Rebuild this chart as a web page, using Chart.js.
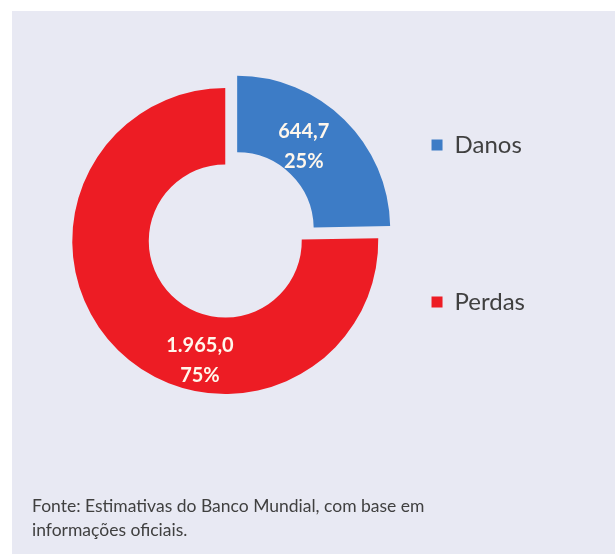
<!DOCTYPE html>
<html>
<head>
<meta charset="utf-8">
<script src="https://cdn.jsdelivr.net/npm/chart.js@4.4.1/dist/chart.umd.min.js"></script>
<style>
  html, body { margin: 0; padding: 0; background: #fff; }
  #wrap { position: relative; width: 615px; height: 554px; overflow: hidden; }
  #panel { position: absolute; left: 12px; top: 11px; right: 0; bottom: 0; background: #e8e9f3; }
  #chart { position: absolute; left: 0; top: 0; }
  #fonte { position: absolute; left: 32px; top: 494px; font: 17.5px Lato, sans-serif; color: #404040; line-height: 24px; }
</style>
</head>
<body>
<div id="wrap">
  <div id="panel"></div>
  <canvas id="chart" width="615" height="554"></canvas>
  <div id="fonte">Fonte: Estimativas do Banco Mundial, com base em<br>informações oficiais.</div>
</div>
<script>
// DATA
const categories = ['Danos', 'Perdas'];
const values = [644.7, 1965.0];

// where each label sits inside its slice (fraction of the angle, fraction of the ring)
const labelPlacement = [
  { angle: 0.44, radius: 0.38 },
  { angle: 0.38, radius: 0.60 }
];

// 1965.0 -> "1.965,0"
function fmt(v) {
  const parts = v.toFixed(1).split('.');
  parts[0] = parts[0].replace(/\B(?=(\d{3})+(?!\d))/g, '.');
  return parts.join(',');
}

const sliceLabels = {
  id: 'sliceLabels',
  afterDatasetsDraw(chart) {
    const ctx = chart.ctx;
    const meta = chart.getDatasetMeta(0);
    const total = values.reduce((a, b) => a + b, 0);
    ctx.save();
    ctx.font = 'bold 20px Lato, sans-serif';
    ctx.fillStyle = '#fff7ec';
    ctx.textAlign = 'center';
    ctx.textBaseline = 'middle';
    meta.data.forEach((arc, i) => {
      const p = arc.getProps(['x', 'y', 'startAngle', 'endAngle', 'innerRadius', 'outerRadius'], true);
      const mid = (p.startAngle + p.endAngle) / 2;
      const shift = (arc.options.offset || 0) / 4;
      const cx = p.x + Math.cos(mid) * shift;
      const cy = p.y + Math.sin(mid) * shift;
      const a = p.startAngle + (p.endAngle - p.startAngle) * labelPlacement[i].angle;
      const r = p.innerRadius + (p.outerRadius - p.innerRadius) * labelPlacement[i].radius;
      const x = cx + Math.cos(a) * r;
      const y = cy + Math.sin(a) * r;
      ctx.fillText(fmt(values[i]), x, y - 15);
      ctx.fillText(Math.round(values[i] / total * 100) + '%', x, y + 15);
    });
    ctx.restore();
  }
};

// legend sizing: items start at x=431, so work out its width from the text
const legendFont = { family: 'Lato', size: 24 };
const legendPad = 133;
const boxW = 11;
const ctx = document.getElementById('chart').getContext('2d');
ctx.font = legendFont.size + 'px ' + legendFont.family;
const textW = Math.max(...categories.map(c => ctx.measureText(c).width));
const legendW = Math.ceil(legendPad + boxW + legendFont.size / 2 + textW + 10);
const legendLeft = 431 - legendPad;

const myChart = new Chart(ctx, {
  type: 'doughnut',
  data: {
    labels: categories,
    datasets: [{
      data: values,
      backgroundColor: ['#3d7cc6', '#ed1c24'],
      borderWidth: 0,
      offset: [68, 0],
      radius: 153,
      cutout: '50%',
      clip: false
    }]
  },
  options: {
    responsive: false,
    animation: false,
    layout: {
      padding: { left: 2 * 225 - legendLeft, right: 615 - legendLeft - legendW, top: 0, bottom: 72 }
    },
    plugins: {
      legend: {
        position: 'right',
        align: 'start',
        maxWidth: legendW + 20,
        labels: {
          boxWidth: boxW,
          boxHeight: 11,
          padding: legendPad,
          color: '#404040',
          font: legendFont
        }
      },
      tooltip: { enabled: false }
    }
  },
  plugins: [sliceLabels]
});
</script>
</body>
</html>
